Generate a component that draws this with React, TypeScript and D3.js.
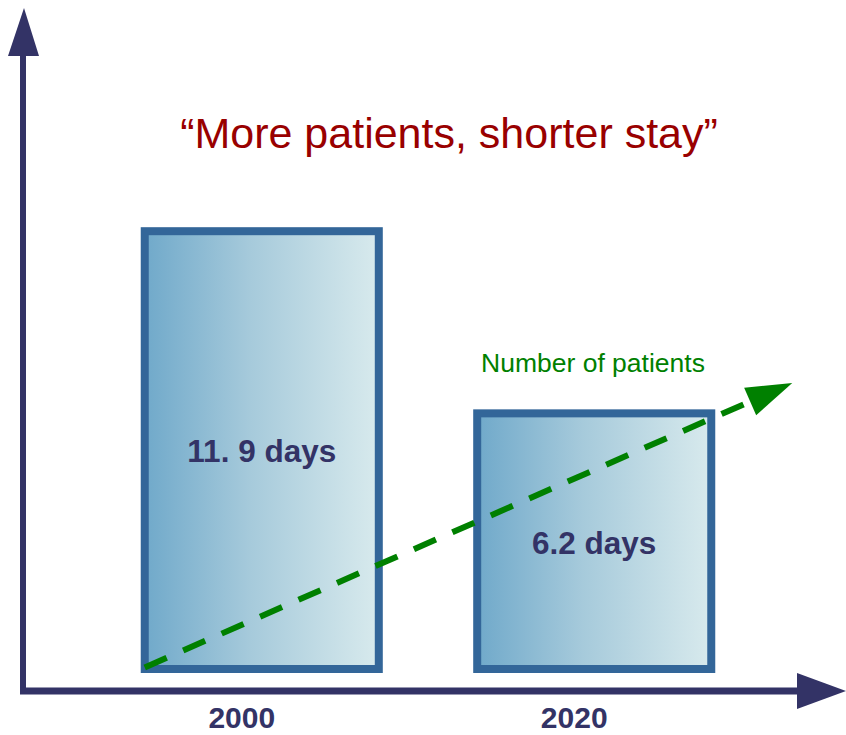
import React, { useRef, useEffect } from "react";
import * as d3 from "d3";

// bars: average length of stay
const years = ["2000", "2020"];
const stayDays = [11.9, 6.2];
const stayLabels = ["11. 9 days", "6.2 days"];

// patient numbers trend (relative position t across the bars, level in day units)
const trendT = [0, 1.143];
const trendLevel = [-1.75, 7.15];

const title = "\u201cMore patients, shorter stay\u201d";
const trendLabel = "Number of patients";

const W = 846;
const H = 735;

function App() {
  const ref = useRef<SVGSVGElement>(null);

  useEffect(() => {
    const svg = d3.select(ref.current);
    svg.selectAll("*").remove();

    const x = d3
      .scaleBand<string>()
      .domain(years)
      .range([45, 811])
      .paddingInner(0.296)
      .paddingOuter(0.3);

    const y = d3.scaleLinear().domain([-1.8, 12]).range([669, 228]);
    const base = y(-1.8);

    const defs = svg.append("defs");
    const grad = defs
      .append("linearGradient")
      .attr("id", "barGrad")
      .attr("x1", "0%")
      .attr("x2", "100%")
      .attr("y1", "0%")
      .attr("y2", "0%");
    grad.append("stop").attr("offset", "0%").attr("stop-color", "#70a9ca");
    grad.append("stop").attr("offset", "45%").attr("stop-color", "#a6cadb");
    grad.append("stop").attr("offset", "100%").attr("stop-color", "#d8eaed");

    // axes
    const axisColor = "#333366";
    svg
      .append("line")
      .attr("x1", 23)
      .attr("x2", 23)
      .attr("y1", 50)
      .attr("y2", 694)
      .attr("stroke", axisColor)
      .attr("stroke-width", 6);
    svg
      .append("path")
      .attr("d", "M24,8 L39,56 L8,56 Z")
      .attr("fill", axisColor);
    svg
      .append("line")
      .attr("x1", 20)
      .attr("x2", 800)
      .attr("y1", 691)
      .attr("y2", 691)
      .attr("stroke", axisColor)
      .attr("stroke-width", 7);
    svg
      .append("path")
      .attr("d", "M846,691 L797,709 L797,673 Z")
      .attr("fill", axisColor);

    // title
    svg
      .append("text")
      .attr("x", 449)
      .attr("y", 148)
      .attr("text-anchor", "middle")
      .attr("font-family", "Liberation Sans, Arial, sans-serif")
      .attr("font-size", 43)
      .attr("fill", "#990000")
      .text(title);

    // bars
    const data = years.map((yr, i) => ({ yr, v: stayDays[i], label: stayLabels[i] }));
    svg
      .selectAll("rect.bar")
      .data(data)
      .enter()
      .append("rect")
      .attr("class", "bar")
      .attr("x", (d) => x(d.yr)!)
      .attr("y", (d) => y(d.v))
      .attr("width", x.bandwidth())
      .attr("height", (d) => base - y(d.v))
      .attr("fill", "url(#barGrad)")
      .attr("stroke", "#336699")
      .attr("stroke-width", 8);

    // bar labels
    svg
      .selectAll("text.val")
      .data(data)
      .enter()
      .append("text")
      .attr("class", "val")
      .attr("x", (d) => x(d.yr)! + x.bandwidth() / 2)
      .attr("y", (d, i) => (i === 0 ? 462 : 554))
      .attr("text-anchor", "middle")
      .attr("font-family", "Liberation Sans, Arial, sans-serif")
      .attr("font-weight", "bold")
      .attr("font-size", 31.5)
      .attr("fill", axisColor)
      .text((d) => d.label);

    // year labels
    svg
      .selectAll("text.year")
      .data(data)
      .enter()
      .append("text")
      .attr("class", "year")
      .attr("x", (d) => x(d.yr)! + x.bandwidth() / 2 - 20)
      .attr("y", 728)
      .attr("text-anchor", "middle")
      .attr("font-family", "Liberation Sans, Arial, sans-serif")
      .attr("font-weight", "bold")
      .attr("font-size", 30)
      .attr("fill", axisColor)
      .text((d) => d.yr);

    // patients trend arrow
    const tx = d3
      .scaleLinear()
      .domain([0, 1])
      .range([x(years[0])!, x(years[1])! + x.bandwidth()]);
    const p0 = [tx(trendT[0]), y(trendLevel[0])];
    const p1 = [tx(trendT[1]), y(trendLevel[1])];
    const dx = p1[0] - p0[0];
    const dy = p1[1] - p0[1];
    const len = Math.hypot(dx, dy);
    const ux = dx / len;
    const uy = dy / len;
    const headLen = 46;
    const headHalf = 15;
    const bx = p1[0] - ux * headLen;
    const by = p1[1] - uy * headLen;
    const green = "#008000";

    svg
      .append("line")
      .attr("x1", p0[0])
      .attr("y1", p0[1])
      .attr("x2", bx + ux * 2)
      .attr("y2", by + uy * 2)
      .attr("stroke", green)
      .attr("stroke-width", 6)
      .attr("stroke-dasharray", "24,18");
    svg
      .append("path")
      .attr(
        "d",
        `M${p1[0]},${p1[1]} L${bx - uy * headHalf},${by + ux * headHalf} L${bx + uy * headHalf},${by - ux * headHalf} Z`
      )
      .attr("fill", green);

    svg
      .append("text")
      .attr("x", 593)
      .attr("y", 372)
      .attr("text-anchor", "middle")
      .attr("font-family", "Liberation Sans, Arial, sans-serif")
      .attr("font-size", 26.5)
      .attr("fill", green)
      .text(trendLabel);
  }, []);

  return (
    <svg
      ref={ref}
      width={W}
      height={H}
      style={{ position: "absolute", left: 0, top: 0, background: "#fff" }}
    />
  );
}

export default App;
